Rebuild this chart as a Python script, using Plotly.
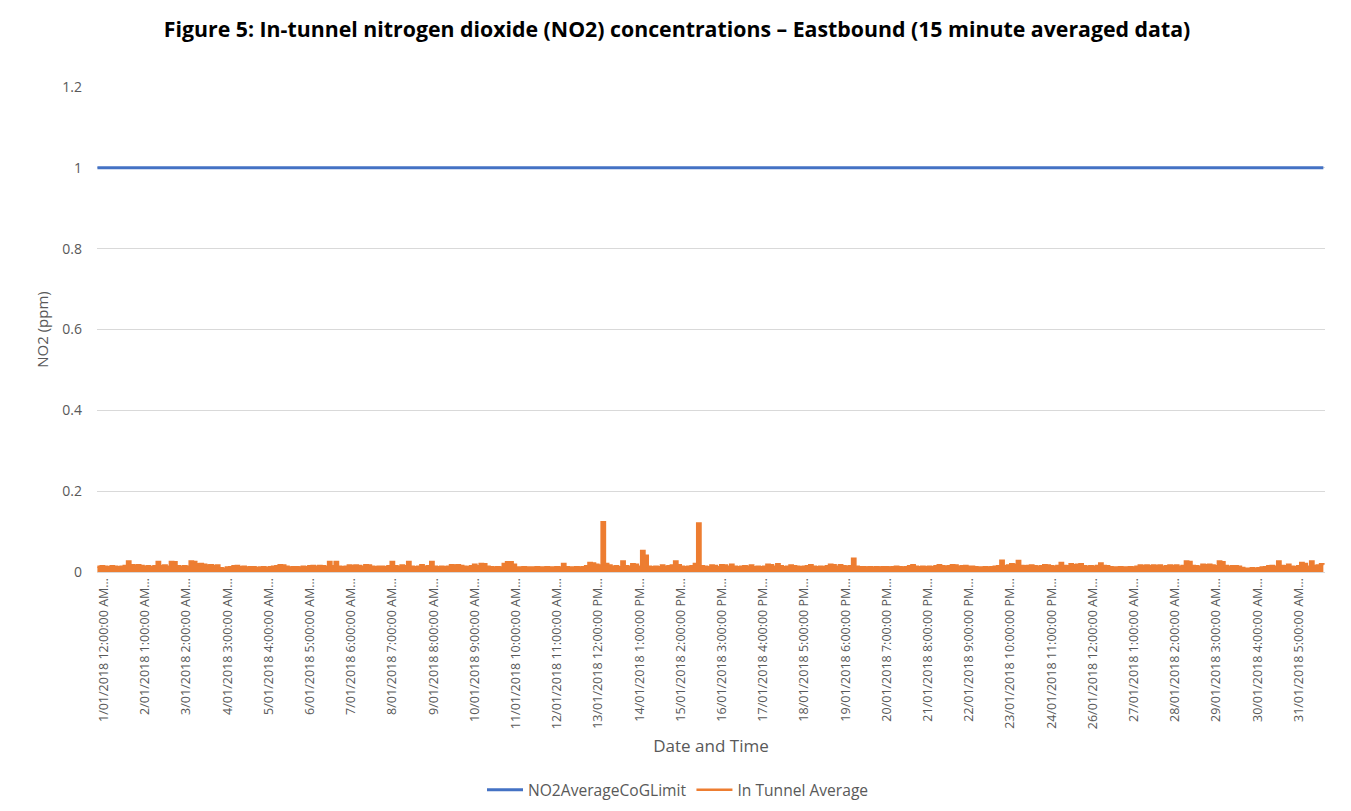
import pandas as pd
import plotly.graph_objects as go

# ---- data ----
title_text = "Figure 5: In-tunnel nitrogen dioxide (NO2) concentrations \u2013 Eastbound (15 minute averaged data)"
series_names = ["NO2AverageCoGLimit", "In Tunnel Average"]

# In-tunnel average NO2 (ppm) at 2-hour steps
in_tunnel = [
    0.013, 0.014, 0.013, 0.012, 0.014, 0.013, 0.012, 0.013, 0.015, 0.026, 0.017, 0.016,
    0.017, 0.015, 0.013, 0.014, 0.012, 0.014, 0.025, 0.015, 0.016, 0.013, 0.025, 0.024,
    0.014, 0.013, 0.014, 0.013, 0.026, 0.025, 0.019, 0.020, 0.018, 0.016, 0.017, 0.015,
    0.016, 0.009, 0.008, 0.011, 0.012, 0.014, 0.015, 0.012, 0.013, 0.011, 0.012, 0.012,
    0.010, 0.011, 0.012, 0.010, 0.012, 0.013, 0.014, 0.017, 0.016, 0.013, 0.011, 0.012,
    0.012, 0.011, 0.013, 0.012, 0.014, 0.015, 0.013, 0.015, 0.014, 0.013, 0.025, 0.014,
    0.025, 0.013, 0.012, 0.013, 0.016, 0.015, 0.016, 0.015, 0.013, 0.017, 0.016, 0.013,
    0.012, 0.013, 0.013, 0.012, 0.014, 0.025, 0.014, 0.013, 0.016, 0.014, 0.025, 0.013,
    0.012, 0.013, 0.017, 0.013, 0.014, 0.025, 0.013, 0.012, 0.013, 0.012, 0.013, 0.017,
    0.016, 0.017, 0.015, 0.013, 0.012, 0.014, 0.018, 0.014, 0.020, 0.019, 0.013, 0.012,
    0.011, 0.012, 0.011, 0.020, 0.024, 0.024, 0.018, 0.011, 0.011, 0.012, 0.011, 0.011,
    0.011, 0.012, 0.011, 0.011, 0.012, 0.011, 0.011, 0.012, 0.011, 0.020, 0.012, 0.011,
    0.011, 0.012, 0.011, 0.012, 0.014, 0.022, 0.021, 0.018, 0.016, 0.123, 0.020, 0.016,
    0.013, 0.014, 0.012, 0.026, 0.014, 0.013, 0.019, 0.018, 0.013, 0.052, 0.040, 0.013,
    0.012, 0.013, 0.012, 0.016, 0.013, 0.014, 0.016, 0.026, 0.017, 0.013, 0.012, 0.013,
    0.014, 0.020, 0.120, 0.014, 0.013, 0.012, 0.016, 0.015, 0.012, 0.017, 0.016, 0.013,
    0.018, 0.013, 0.012, 0.013, 0.014, 0.013, 0.016, 0.012, 0.013, 0.012, 0.013, 0.018,
    0.017, 0.013, 0.019, 0.014, 0.012, 0.013, 0.016, 0.014, 0.013, 0.012, 0.013, 0.014,
    0.017, 0.013, 0.012, 0.013, 0.012, 0.014, 0.018, 0.017, 0.013, 0.017, 0.014, 0.013,
    0.014, 0.033, 0.013, 0.012, 0.012, 0.011, 0.012, 0.011, 0.012, 0.011, 0.012, 0.012,
    0.011, 0.012, 0.013, 0.012, 0.011, 0.012, 0.014, 0.017, 0.013, 0.012, 0.013, 0.012,
    0.013, 0.012, 0.014, 0.017, 0.014, 0.013, 0.014, 0.017, 0.016, 0.013, 0.014, 0.015,
    0.013, 0.013, 0.012, 0.011, 0.011, 0.012, 0.011, 0.012, 0.013, 0.014, 0.028, 0.014,
    0.016, 0.019, 0.018, 0.027, 0.015, 0.014, 0.015, 0.016, 0.014, 0.013, 0.014, 0.017,
    0.016, 0.014, 0.013, 0.015, 0.022, 0.015, 0.014, 0.019, 0.017, 0.018, 0.019, 0.014,
    0.013, 0.014, 0.013, 0.015, 0.021, 0.015, 0.014, 0.012, 0.011, 0.011, 0.012, 0.011,
    0.011, 0.012, 0.011, 0.013, 0.016, 0.015, 0.016, 0.014, 0.016, 0.015, 0.016, 0.013,
    0.014, 0.016, 0.015, 0.016, 0.013, 0.015, 0.026, 0.025, 0.015, 0.014, 0.013, 0.018,
    0.017, 0.018, 0.016, 0.014, 0.026, 0.024, 0.015, 0.013, 0.014, 0.014, 0.013, 0.010,
    0.008, 0.008, 0.009, 0.008, 0.009, 0.011, 0.012, 0.014, 0.015, 0.013, 0.026, 0.015,
    0.014, 0.018, 0.013, 0.012, 0.014, 0.022, 0.020, 0.013, 0.026, 0.015, 0.016, 0.019,
    0.018,
]
limit_value = 1.0
series_start = "2017-12-31 20:00"
series_step = "2h"

tick_labels = [
    "1/01/2018 12:00:00 AM", "2/01/2018 1:00:00 AM", "3/01/2018 2:00:00 AM",
    "4/01/2018 3:00:00 AM", "5/01/2018 4:00:00 AM", "6/01/2018 5:00:00 AM",
    "7/01/2018 6:00:00 AM", "8/01/2018 7:00:00 AM", "9/01/2018 8:00:00 AM",
    "10/01/2018 9:00:00 AM", "11/01/2018 10:00:00 AM", "12/01/2018 11:00:00 AM",
    "13/01/2018 12:00:00 PM", "14/01/2018 1:00:00 PM", "15/01/2018 2:00:00 PM",
    "16/01/2018 3:00:00 PM", "17/01/2018 4:00:00 PM", "18/01/2018 5:00:00 PM",
    "19/01/2018 6:00:00 PM", "20/01/2018 7:00:00 PM", "21/01/2018 8:00:00 PM",
    "22/01/2018 9:00:00 PM", "23/01/2018 10:00:00 PM", "24/01/2018 11:00:00 PM",
    "26/01/2018 12:00:00 AM", "27/01/2018 1:00:00 AM", "28/01/2018 2:00:00 AM",
    "29/01/2018 3:00:00 AM", "30/01/2018 4:00:00 AM", "31/01/2018 5:00:00 AM",
]
y_ticks = [0, 0.2, 0.4, 0.6, 0.8, 1, 1.2]
y_tick_text = ["0", "0.2", "0.4", "0.6", "0.8", "1", "1.2"]

# ---- build ----
times = pd.date_range(series_start, periods=len(in_tunnel), freq=series_step)
tickvals = pd.to_datetime(tick_labels, format="%d/%m/%Y %I:%M:%S %p")
ticktext = [t + "\u2026" for t in tick_labels]
limit = [limit_value] * len(in_tunnel)

FONT = "Open Sans, Lato, sans-serif"
GREY = "#595959"
BLUE = "#4472C4"
ORANGE = "#ED7D31"

fig = go.Figure()
fig.add_trace(go.Scatter(
    x=times, y=limit, mode="lines", name=series_names[0],
    line=dict(color=BLUE, width=3),
))
# filled body of the dense 15-minute trace (no legend entry)
fig.add_trace(go.Scatter(
    x=times, y=in_tunnel, mode="lines", showlegend=False, hoverinfo="skip",
    line=dict(color=ORANGE, width=0, shape="hv"),
    fill="tozeroy", fillcolor=ORANGE,
))
fig.add_trace(go.Scatter(
    x=times, y=in_tunnel, mode="lines", name=series_names[1],
    line=dict(color=ORANGE, width=2.5, shape="hv"),
))

fig.update_layout(
    width=1351, height=811,
    paper_bgcolor="white", plot_bgcolor="white",
    margin=dict(l=89, r=34, t=79, b=247),
    font=dict(family=FONT, color=GREY, size=13),
    title=dict(
        text="<b>" + title_text + "</b>",
        x=669 / 1351, xref="container", xanchor="center",
        y=1 - 22 / 811, yref="container", yanchor="middle",
        font=dict(family=FONT, size=21.3, color="#000000"),
    ),
    showlegend=True,
    legend=dict(
        orientation="h", xref="container", yref="container",
        x=670 / 1351, xanchor="center", y=29 / 811, yanchor="middle",
        font=dict(size=15.6, color=GREY), itemwidth=36, tracegroupgap=0,
    ),
)
fig.update_xaxes(
    range=[pd.Timestamp("2017-12-31 19:45"), pd.Timestamp("2018-01-31 21:00")],
    tickmode="array", tickvals=tickvals, ticktext=ticktext,
    tickangle=-90, tickfont=dict(size=12.5, color=GREY),
    showgrid=False, zeroline=False,
    showline=True, linecolor="#D9D9D9", linewidth=1,
    ticks="", title=dict(text="Date and Time", font=dict(size=17, color=GREY), standoff=11),
)
fig.update_yaxes(
    range=[0, 1.2], tickmode="array", tickvals=y_ticks, ticktext=y_tick_text,
    showgrid=True, gridcolor="#D9D9D9", gridwidth=1, zeroline=False,
    tickfont=dict(size=14, color=GREY), ticks="", ticklabelstandoff=14,
    title=dict(text="NO2 (ppm)", font=dict(size=15, color=GREY), standoff=10),
)

fig.write_html("out.html")
